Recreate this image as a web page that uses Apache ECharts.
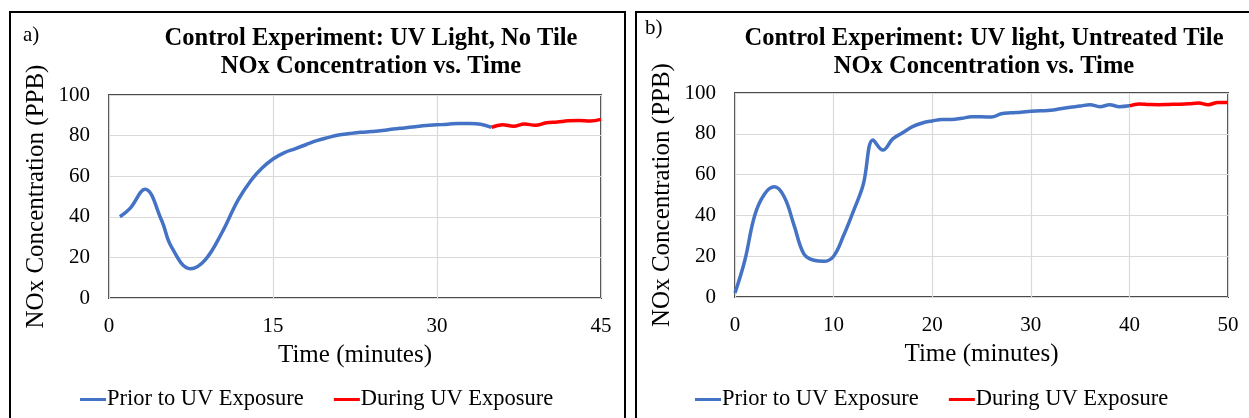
<!DOCTYPE html>
<html>
<head>
<meta charset="utf-8">
<script src="https://cdn.jsdelivr.net/npm/echarts@6/dist/echarts.min.js"></script>
<style>
html,body{margin:0;padding:0;background:#fff;}
#c{width:1249px;height:418px;}
</style>
</head>
<body>
<div id="c"></div>
<script>
// ---- Data: panel a) UV Light, No Tile ----
const timeA_prior = [1,1.9,3.3,4.8,5.7,7.45,8.8,10.3,11.8,13,14,15,16,17,18,19,20,21,22,23,24,25,26,27,28,29,30,31,32,33,34,35];
const nox_A_prior = [40,44,53.6,38.4,25.3,14.4,18.8,31.9,48.2,58,64,68.5,71.5,73.5,75.5,77.5,79,80.3,81,81.6,82,82.5,83.2,83.8,84.4,85,85.3,85.6,86,86,85.6,84];
const timeA_during = [35,36,37,38,39,40,41,42,43,44,45];
const nox_A_during = [84,85.3,84.6,85.7,85.1,86.3,86.7,87.3,87.5,87.2,88];

// ---- Data: panel b) UV light, Untreated Tile ----
const timeB_prior = [0,1,2,3,4,5,6,7,8,9,10,11,12,13,14,15,16,17,18,19,20,21,22,23,24,25,26,27,28,29,30,31,32,33,34,35,36,37,38,39,40];
const nox_B_prior = [2,18,40,50.5,54,49,35,21,18,17.5,20,30,42,55,77,72,77.5,80.5,83.5,85.3,86.3,87,87,87.6,88.3,88.3,88.2,89.8,90.3,90.6,91,91.3,91.5,92.3,93,93.6,94.3,93.3,94.2,93.3,93.7];
const timeB_during = [40,41,42,43,44,45,46,47,48,49,50];
const nox_B_during = [93.7,94.6,94.4,94.3,94.4,94.5,94.7,95.1,94.3,95.4,95.4];

// ---- Tick settings / labels ----
const yTicks = {min:0, max:100, interval:20};
const xTicksA = {min:0, max:45, interval:15};
const xTicksB = {min:0, max:50, interval:10};
const seriesNames = ['Prior to UV Exposure','During UV Exposure'];
const titleA = 'Control Experiment: UV Light, No Tile\nNOx Concentration vs. Time';
const titleB = 'Control Experiment: UV light, Untreated Tile\nNOx Concentration vs. Time';
const xName = 'Time (minutes)';
const yName = 'NOx Concentration (PPB)';

const pairs = (xs, ys) => xs.map((x,i)=>[x, ys[i]]);

const FONT = 'Liberation Serif';
const BLUE = '#4472C4', RED = '#FF0000';

function xAxisOf(idx, t){
  return {
    type:'value', gridIndex: idx, min:t.min, max:t.max, interval:t.interval,
    name: xName, nameLocation:'middle', nameGap:45,
    nameTextStyle:{fontFamily:FONT, fontSize:25, color:'#000'},
    axisLine:{show:false}, axisTick:{show:false},
    axisLabel:{fontFamily:FONT, fontSize:21, color:'#000', margin:18},
    splitLine:{show:true, lineStyle:{color:'#d9d9d9', width:1.2}}
  };
}
function yAxisOf(idx){
  return {
    type:'value', gridIndex: idx, min:yTicks.min, max:yTicks.max, interval:yTicks.interval,
    name: yName, nameLocation:'middle', nameGap:60, nameRotate:90,
    nameTextStyle:{fontFamily:FONT, fontSize:25, color:'#000'},
    axisLine:{show:false}, axisTick:{show:false},
    axisLabel:{fontFamily:FONT, fontSize:21, color:'#000', margin:19},
    splitLine:{show:true, lineStyle:{color:'#d9d9d9', width:1.2}}
  };
}
function lineSeries(name, data, color, xi){
  return {
    name, type:'line', xAxisIndex:xi, yAxisIndex:xi, data,
    smooth:0.4, showSymbol:false, symbol:'none',
    lineStyle:{color, width:3.5}, itemStyle:{color},
    animation:false
  };
}
const legendData = [
  {name:seriesNames[0], icon:'path://M0,6H26V9H0Z', itemStyle:{color:BLUE}},
  {name:seriesNames[1], icon:'path://M0,6H26V9H0Z', itemStyle:{color:RED}}
];

const chart = echarts.init(document.getElementById('c'), null, {renderer:'canvas'});
chart.setOption({
  animation:false,
  backgroundColor:'#fff',
  grid:[
    {left:109, top:95, width:492, bottom:120, show:true, borderColor:'#4a4a4a', borderWidth:2, backgroundColor:'#fff', containLabel:false},
    {left:735, top:93, width:493, bottom:121, show:true, borderColor:'#4a4a4a', borderWidth:2, backgroundColor:'#fff', containLabel:false}
  ],
  xAxis:[xAxisOf(0,xTicksA), xAxisOf(1,xTicksB)],
  yAxis:[yAxisOf(0), yAxisOf(1)],
  legend:[
    {left:80, top:388, padding:0, itemWidth:26, itemHeight:14, itemGap:30, data:legendData,
     textStyle:{fontFamily:FONT, fontSize:22.5, color:'#000', padding:[0,0,0,-4]}, selectedMode:false},
    {left:695, top:388, padding:0, itemWidth:26, itemHeight:14, itemGap:30, data:legendData,
     textStyle:{fontFamily:FONT, fontSize:22.5, color:'#000', padding:[0,0,0,-4]}, selectedMode:false}
  ],
  graphic:[
    {type:'rect', shape:{x:10, y:12, width:615, height:430}, style:{fill:null, stroke:'#000', lineWidth:2}, silent:true, z:-1},
    {type:'rect', shape:{x:636, y:12, width:630, height:430}, style:{fill:null, stroke:'#000', lineWidth:2}, silent:true, z:-1},
    {type:'text', x:23, y:35, style:{text:'a)', font:'21px "Liberation Serif"', fill:'#000', textVerticalAlign:'middle'}},
    {type:'text', x:645, y:28, style:{text:'b)', font:'21px "Liberation Serif"', fill:'#000', textVerticalAlign:'middle'}},
    {type:'text', x:371, y:53, style:{text:titleA, font:'bold 24.5px "Liberation Serif"', fill:'#000', textAlign:'center', textVerticalAlign:'middle', lineHeight:28}},
    {type:'text', x:984, y:53, style:{text:titleB, font:'bold 24.5px "Liberation Serif"', fill:'#000', textAlign:'center', textVerticalAlign:'middle', lineHeight:28}}
  ],
  series:[
    lineSeries(seriesNames[0], pairs(timeA_prior, nox_A_prior), BLUE, 0),
    lineSeries(seriesNames[1], pairs(timeA_during, nox_A_during), RED, 0),
    lineSeries(seriesNames[0], pairs(timeB_prior, nox_B_prior), BLUE, 1),
    lineSeries(seriesNames[1], pairs(timeB_during, nox_B_during), RED, 1)
  ]
});
</script>
</body>
</html>
